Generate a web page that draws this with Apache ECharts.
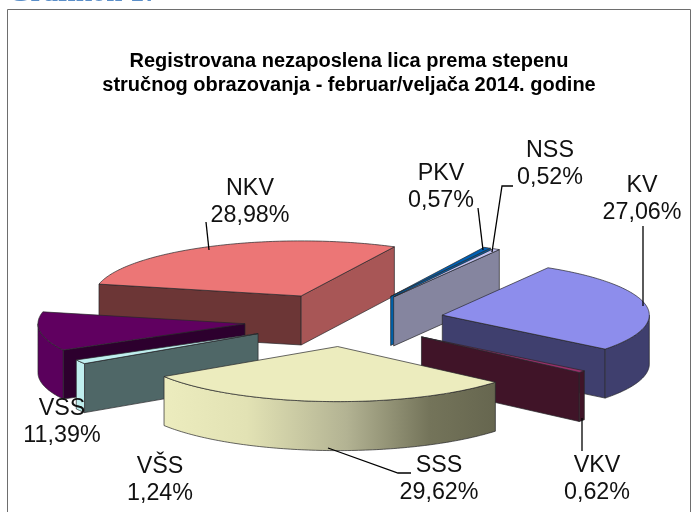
<!DOCTYPE html>
<html>
<head>
<meta charset="utf-8">
<style>
  html, body { margin: 0; padding: 0; background: #fff; }
  #chart { width: 697px; height: 512px; }
</style>
<script src="https://cdn.jsdelivr.net/npm/echarts@6/dist/echarts.min.js"></script>
</head>
<body>
<div id="chart"></div>
<script>
// podaci sa grafikona
const categories = ["KV", "VKV", "SSS", "VŠS", "VSS", "NKV", "PKV", "NSS"];
const shares = [27.06, 0.62, 29.62, 1.24, 11.39, 28.98, 0.57, 0.52];
const shareLabels = ["27,06%", "0,62%", "29,62%", "1,24%", "11,39%", "28,98%", "0,57%", "0,52%"];
const titleLines = [
  "Registrovana nezaposlena lica prema stepenu",
  "stručnog obrazovanja - februar/veljača 2014. godine"
];

// "3D" projekcija
const pie = { cx: 344, cy: 320, rx: 207, ratio: 0.266, depth: 49, explode: 100, startAngle: -59.3 };

// boje: gornja strana, pocetni zid, krajnji zid, obod
const sliceColors = [
  { top: "#8d8dec", start: "#3f3f6e", end: "#3f3f6e", rim: "#3f3f6e" },
  { top: "#99306b", start: "#401428", end: "#401428", rim: "#401428" },
  { top: "#ececbe", start: "#66664f", end: "#b5b592",
    rim: { type: "linear", x: 0, y: 0, x2: 1, y2: 0, colorStops: [
      { offset: 0, color: "#ececbe" },
      { offset: 0.25, color: "#e2e2b4" },
      { offset: 0.55, color: "#b3b393" },
      { offset: 0.8, color: "#74745a" },
      { offset: 1, color: "#66664f" }
    ] } },
  { top: "#bfeeee", start: "#4f6767", end: "#4f6767", rim: "#bfeeee" },
  { top: "#600060", start: "#2d002e", end: "#2d002e", rim: "#5a005c" },
  { top: "#ec7676", start: "#6c3636", end: "#a85656", rim: "#a85656" },
  { top: "#0060b4", start: "#0060a8", end: "#0060a8", rim: "#0060a8" },
  { top: "#c2c2f0", start: "#85859f", end: "#85859f", rim: "#85859f" }
];

// redosled crtanja, od zadnjih ka prednjim kriskama
const drawOrder = [5, 4, 6, 7, 0, 1, 3, 2];

// polozaj natpisa (sredina) i linije do kriski
const labelAnchors = [[642, 199], [597, 479], [439, 479], [160, 480], [62, 422], [250, 202], [441, 187], [550, 164]];
const leaderLines = [
  [[643, 226], [643, 306]],
  [[582, 418], [582, 451]],
  [[328, 448], [398, 473], [411, 473]],
  null,
  null,
  [[206, 222], [209, 250]],
  [[478, 208], [483, 250]],
  [[513, 186], [502, 186], [492, 252]]
];

const toRad = (d) => d * Math.PI / 180;

// uglovi kriski iz udela
const sliceAngles = [];
shares.reduce((acc, v) => {
  const sweep = v / 100 * 360;
  sliceAngles.push([acc, acc + sweep]);
  return acc + sweep;
}, pie.startAngle);

const arcPoint = (apex, deg) => [
  apex[0] + pie.rx * Math.cos(toRad(deg)),
  apex[1] + pie.rx * pie.ratio * Math.sin(toRad(deg))
];

const arcPoints = (apex, from, to) => {
  const pts = [];
  const steps = Math.max(2, Math.ceil(Math.abs(to - from)));
  for (let i = 0; i <= steps; i++) {
    pts.push(arcPoint(apex, from + (to - from) * i / steps));
  }
  return pts;
};

const down = (p) => [p[0], p[1] + pie.depth];

const face = (points, fill) => ({
  type: "polygon",
  shape: { points },
  style: { fill, stroke: "#26262a", lineWidth: 0.7 }
});

const wall = (apex, deg, fill) => {
  const p = arcPoint(apex, deg);
  return face([apex, p, down(p), down(apex)], fill);
};

const renderSlice = (params, api) => {
  const idx = api.value(0);
  const [a, b] = sliceAngles[idx];
  const mid = toRad((a + b) / 2);
  const col = sliceColors[idx];
  const apex = [
    pie.cx + pie.explode * Math.cos(mid),
    pie.cy + pie.explode * pie.ratio * Math.sin(mid)
  ];
  const children = [];
  // zidovi okrenuti ka posmatracu
  if (Math.cos(toRad(a)) < 0) children.push(wall(apex, a, col.start));
  if (Math.cos(toRad(b)) > 0) children.push(wall(apex, b, col.end));
  // vidljivi deo oboda
  const ranges = [[0, 180], [360, 540]];
  ranges.forEach(([lo, hi]) => {
    const from = Math.max(a, lo);
    const to = Math.min(b, hi);
    if (to > from) {
      const upper = arcPoints(apex, from, to);
      const lower = upper.map(down).reverse();
      children.push(face(upper.concat(lower), col.rim));
    }
  });
  // gornja strana
  children.push(face([apex].concat(arcPoints(apex, a, b)), col.top));
  return { type: "group", children };
};

const renderLabel = (params, api) => {
  const idx = api.value(0);
  const children = [];
  const line = leaderLines[idx];
  if (line) {
    children.push({
      type: "polyline",
      shape: { points: line },
      style: { fill: "none", stroke: "#000", lineWidth: 1.3 }
    });
  }
  const pos = labelAnchors[idx];
  children.push({
    type: "text",
    x: pos[0],
    y: pos[1],
    style: {
      text: categories[idx] + "\n" + shareLabels[idx],
      fill: "#111",
      font: '23.3px "Liberation Sans", Arial, sans-serif',
      lineHeight: 27,
      align: "center",
      verticalAlign: "middle"
    }
  });
  return { type: "group", children };
};

const myChart = echarts.init(document.getElementById("chart"), null, { renderer: "canvas" });

const option = {
  animation: false,
  backgroundColor: "#fff",
  title: [
    {
      text: "Grafikon 17",
      left: 8,
      top: -21,
      padding: 0,
      textStyle: { color: "#5b8fc9", fontSize: 29, fontWeight: "bold", fontFamily: '"Liberation Serif", serif' }
    },
    {
      text: titleLines.join("\n"),
      left: 349,
      top: 49,
      padding: 0,
      textAlign: "center",
      textStyle: {
        color: "#000",
        fontSize: 20,
        fontWeight: "bold",
        lineHeight: 24.5,
        fontFamily: '"Liberation Sans", Arial, sans-serif'
      }
    }
  ],
  graphic: [
    {
      type: "rect",
      silent: true,
      z: -1,
      shape: { x: 7.5, y: 9.5, width: 683, height: 520 },
      style: { fill: "#fff", stroke: "#6e6e6e", lineWidth: 1 }
    }
  ],
  series: [
    {
      type: "custom",
      coordinateSystem: "none",
      silent: true,
      z: 2,
      data: drawOrder.map((i) => [i, shares[i]]),
      renderItem: renderSlice
    },
    {
      type: "custom",
      coordinateSystem: "none",
      silent: true,
      z: 3,
      data: categories.map((c, i) => [i, shares[i]]),
      renderItem: renderLabel
    }
  ]
};

option && myChart.setOption(option);
</script>
</body>
</html>
